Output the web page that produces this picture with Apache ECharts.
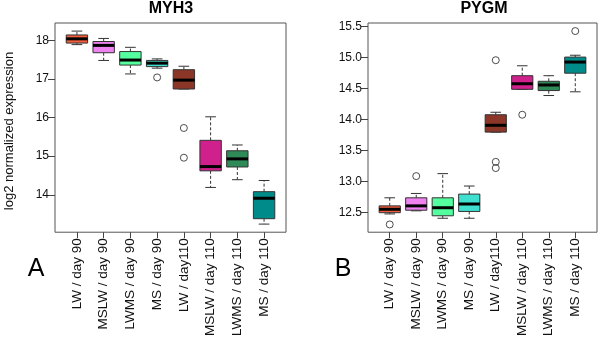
<!DOCTYPE html>
<html>
<head>
<meta charset="utf-8">
<script src="https://cdn.jsdelivr.net/npm/echarts@6/dist/echarts.min.js"></script>
<style>
  html, body { margin: 0; padding: 0; background: #fff; }
  #chart { width: 600px; height: 339px; }
</style>
</head>
<body>
<div id="chart"></div>
<script>
var categories = ['LW / day 90', 'MSLW / day 90', 'LWMS / day 90', 'MS / day 90',
                  'LW / day110', 'MSLW / day 110', 'LWMS / day 110', 'MS / day 110'];
var boxColors = ['#F15C3C', '#EE82EE', '#54FF9F', '#40E0D0', '#8B3626', '#D0208C', '#2E8B57', '#008B8B'];

// each row: [lower whisker, Q1, median, Q3, upper whisker]
var myh3Stats = [
    [17.89, 17.93, 18.04, 18.14, 18.24],
    [17.48, 17.68, 17.87, 17.97, 18.05],
    [17.13, 17.36, 17.49, 17.71, 17.82],
    [17.28, 17.32, 17.41, 17.48, 17.52],
    [16.74, 16.74, 16.97, 17.24, 17.33],
    [14.19, 14.62, 14.73, 15.41, 16.02],
    [14.39, 14.72, 14.93, 15.14, 15.29],
    [13.24, 13.38, 13.91, 14.08, 14.37]
];
// [group (1-based), value]
var myh3Outliers = [[4, 17.04], [5, 15.73], [5, 14.96]];
var myh3Ticks = [14, 15, 16, 17, 18];

var pygmStats = [
    [12.48, 12.50, 12.555, 12.61, 12.74],
    [12.53, 12.54, 12.61, 12.74, 12.81],
    [12.41, 12.45, 12.58, 12.74, 13.13],
    [12.41, 12.52, 12.64, 12.80, 12.93],
    [13.80, 13.80, 13.91, 14.08, 14.12],
    [14.49, 14.49, 14.58, 14.71, 14.87],
    [14.39, 14.47, 14.56, 14.62, 14.71],
    [14.45, 14.75, 14.93, 15.01, 15.04]
];
var pygmOutliers = [[1, 12.31], [2, 13.09], [5, 14.96], [5, 13.32], [5, 13.22], [6, 14.08], [8, 15.43]];
var pygmTicks = [12.5, 13.0, 13.5, 14.0, 14.5, 15.0, 15.5];

var positions = [1, 2, 3, 4, 5, 6, 7, 8];
var FONT = 'Liberation Sans, Arial, Helvetica, sans-serif';

function renderBox(params, api) {
    var x = api.value(0);
    var low = api.coord([x, api.value(1)]);
    var q1 = api.coord([x, api.value(2)]);
    var med = api.coord([x, api.value(3)]);
    var q3 = api.coord([x, api.value(4)]);
    var high = api.coord([x, api.value(5)]);
    var w = api.size([0.8, 0])[0];
    var cx = low[0];
    var stroke = '#333';
    var dash = { stroke: stroke, lineWidth: 1, lineDash: [3, 2] };
    var solid = { stroke: stroke, lineWidth: 1 };
    return {
        type: 'group',
        children: [
            { type: 'line', shape: { x1: cx, y1: q3[1], x2: cx, y2: high[1] }, style: dash },
            { type: 'line', shape: { x1: cx, y1: q1[1], x2: cx, y2: low[1] }, style: dash },
            { type: 'line', shape: { x1: cx - w / 4, y1: high[1], x2: cx + w / 4, y2: high[1] }, style: solid },
            { type: 'line', shape: { x1: cx - w / 4, y1: low[1], x2: cx + w / 4, y2: low[1] }, style: solid },
            {
                type: 'rect',
                shape: { x: cx - w / 2, y: q3[1], width: w, height: q1[1] - q3[1] },
                style: { fill: boxColors[params.dataIndex], stroke: stroke, lineWidth: 1 }
            },
            { type: 'line', shape: { x1: cx - w / 2, y1: med[1], x2: cx + w / 2, y2: med[1] },
              style: { stroke: '#000', lineWidth: 3 } }
        ]
    };
}

function boxData(stats) {
    return stats.map(function (s, i) {
        return [positions[i]].concat(s);
    });
}

function makeXAxis(gridIndex) {
    return {
        type: 'value',
        gridIndex: gridIndex,
        min: 0.18,
        max: 8.82,
        axisLine: { show: false },
        splitLine: { show: false },
        axisTick: { show: true, length: 6, customValues: positions, lineStyle: { color: '#444' } },
        axisLabel: {
            customValues: positions,
            rotate: 90,
            margin: 6,
            fontFamily: FONT,
            fontSize: 13.5,
            color: '#111',
            formatter: function (v) { return categories[Math.round(v) - 1]; }
        }
    };
}

function makeYAxis(gridIndex, min, max, ticks, digits) {
    return {
        type: 'value',
        gridIndex: gridIndex,
        min: min,
        max: max,
        axisLine: { show: false },
        splitLine: { show: false },
        axisTick: { show: true, length: 7, customValues: ticks, lineStyle: { color: '#444' } },
        axisLabel: {
            customValues: ticks,
            margin: 6,
            fontFamily: FONT,
            fontSize: 12,
            color: '#111',
            formatter: function (v) { return v.toFixed(digits); }
        }
    };
}

function outlierSeries(idx, data) {
    return {
        type: 'scatter',
        xAxisIndex: idx,
        yAxisIndex: idx,
        data: data,
        symbol: 'circle',
        symbolSize: 7,
        itemStyle: { color: 'rgba(0,0,0,0)', borderColor: '#222', borderWidth: 1 },
        silent: true,
        z: 3
    };
}

var chart = echarts.init(document.getElementById('chart'));
var option = {
    animation: false,
    backgroundColor: '#fff',
    grid: [
        { left: 55, top: 23, width: 231, height: 215, show: true, borderColor: '#555', borderWidth: 1, backgroundColor: 'transparent' },
        { left: 368, top: 23, width: 229, height: 215, show: true, borderColor: '#555', borderWidth: 1, backgroundColor: 'transparent' }
    ],
    xAxis: [makeXAxis(0), makeXAxis(1)],
    yAxis: [
        makeYAxis(0, 13.03, 18.45, myh3Ticks, 0),
        makeYAxis(1, 12.185, 15.56, pygmTicks, 1)
    ],
    series: [
        { type: 'custom', xAxisIndex: 0, yAxisIndex: 0, renderItem: renderBox, data: boxData(myh3Stats), silent: true },
        outlierSeries(0, myh3Outliers),
        { type: 'custom', xAxisIndex: 1, yAxisIndex: 1, renderItem: renderBox, data: boxData(pygmStats), silent: true },
        outlierSeries(1, pygmOutliers)
    ],
    graphic: [
        { type: 'text', x: 171, y: 9, style: { text: 'MYH3', font: 'bold 16px ' + FONT, fill: '#000', textAlign: 'center', textVerticalAlign: 'middle' } },
        { type: 'text', x: 484, y: 9, style: { text: 'PYGM', font: 'bold 16px ' + FONT, fill: '#000', textAlign: 'center', textVerticalAlign: 'middle' } },
        { type: 'text', x: 9, y: 131, rotation: Math.PI / 2, style: { text: 'log2 normalized expression', font: '13px ' + FONT, fill: '#111', textAlign: 'center', textVerticalAlign: 'middle' } },
        { type: 'text', x: 36, y: 269, style: { text: 'A', font: '25px ' + FONT, fill: '#000', textAlign: 'center', textVerticalAlign: 'middle' } },
        { type: 'text', x: 343, y: 269, style: { text: 'B', font: '25px ' + FONT, fill: '#000', textAlign: 'center', textVerticalAlign: 'middle' } }
    ]
};
chart.setOption(option);
</script>
</body>
</html>
